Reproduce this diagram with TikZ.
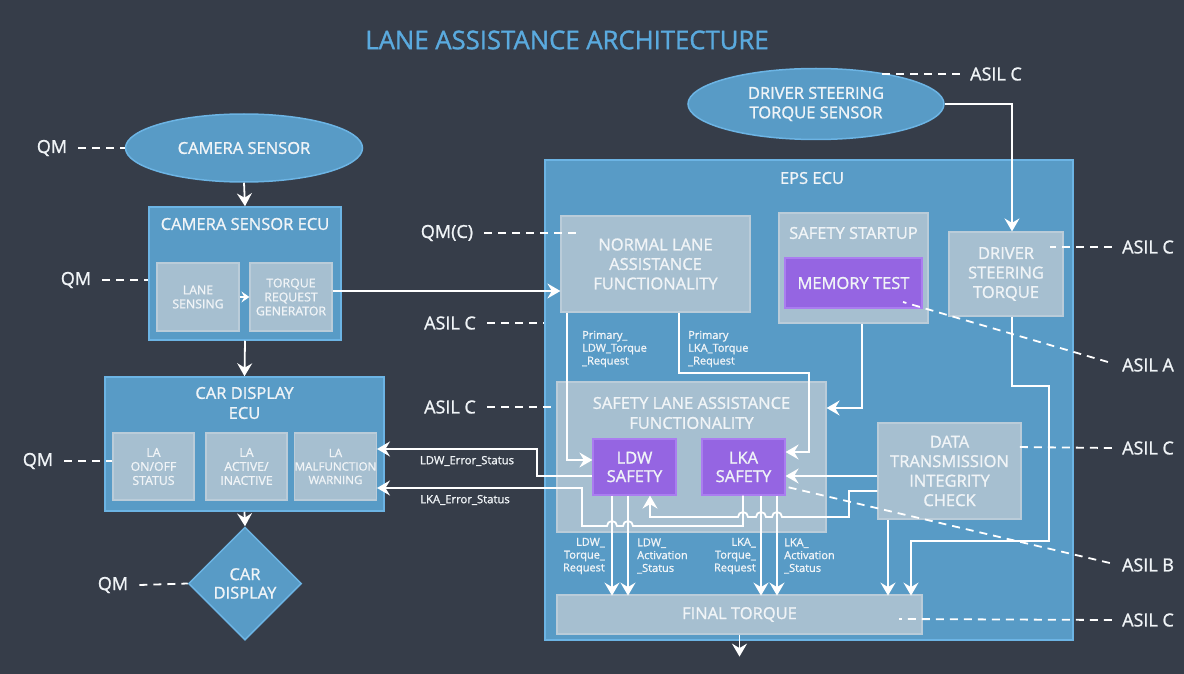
\documentclass[tikz,border=0pt]{standalone}
\usepackage{fontspec}
\setmainfont{Open Sans}[BoldFont={Open Sans},BoldFeatures={FakeBold=1.2}]
\usetikzlibrary{arrows.meta,shapes.geometric}
\definecolor{bgc}{RGB}{54,61,73}
\definecolor{bluef}{RGB}{88,155,198}
\definecolor{blued}{RGB}{108,180,228}
\definecolor{greyf}{RGB}{166,191,208}
\definecolor{greyd}{RGB}{186,204,217}
\definecolor{purf}{RGB}{149,101,226}
\definecolor{purd}{RGB}{170,125,240}
\definecolor{titc}{RGB}{90,170,222}
\definecolor{txtc}{RGB}{240,244,247}
\tikzset{
 base/.style={inner sep=0pt, align=center, text=txtc},
 bluebox/.style={base, fill=bluef, draw=blued, line width=1.5pt},
 greybox/.style={base, fill=greyf, draw=greyd, line width=1.2pt},
 purbox/.style={base, fill=purf, draw=purd, line width=1.2pt},
 ell/.style={base, ellipse, fill=bluef, draw=blued, line width=1.5pt},
 big/.style={font=\bfseries\fontsize{16.5}{19.5}\selectfont},
 small/.style={font=\bfseries\fontsize{12.3}{14}\selectfont},
 lbl/.style={base, font=\bfseries\fontsize{18}{21}\selectfont},
 tiny/.style={base, font=\bfseries\fontsize{11}{12.8}\selectfont},
 conn/.style={draw=white, line width=1.8pt},
 arr/.style={conn, -{Stealth[length=13pt,width=15pt,inset=4.5pt]}},
 sarr/.style={conn, -{Stealth[length=8pt,width=11pt,inset=3pt]}},
 dsh/.style={draw=white, line width=1.8pt, dash pattern=on 8pt off 6pt},
}
\begin{document}
\begin{tikzpicture}[x=1pt,y=-1pt]
\fill[bgc] (0,0) rectangle (1184,674);
\useasboundingbox (0,0) rectangle (1184,674);

% title
\node[base, text=titc, font=\bfseries\fontsize{25.7}{30}\selectfont] (title) at (567,40) {LANE ASSISTANCE ARCHITECTURE};

% left column
\node[ell, big, minimum width=237pt, minimum height=68pt] (cam) at (244,148) {CAMERA SENSOR};
\node[bluebox, minimum width=192pt, minimum height=133pt] (csecu) at (245,273.5) {};
\node[base, big] (csecut) at (245,224) {CAMERA SENSOR ECU};
\node[greybox, small, minimum width=82pt, minimum height=68pt] (ls) at (198,297) {LANE\\SENSING};
\node[greybox, small, minimum width=82pt, minimum height=68pt] (trg) at (291,297) {TORQUE\\REQUEST\\GENERATOR};

\node[bluebox, minimum width=279pt, minimum height=134pt] (cdecu) at (244.5,444) {};
\node[base, big, font=\bfseries\fontsize{16.5}{20}\selectfont] (cdecut) at (244.5,403) {CAR DISPLAY\\ECU};
\node[greybox, small, minimum width=81pt, minimum height=67pt] (lao) at (153.5,466.5) {LA\\ON/OFF\\STATUS};
\node[greybox, small, minimum width=81pt, minimum height=67pt] (laa) at (246.5,466.5) {LA\\ACTIVE/\\INACTIVE};
\node[greybox, small, font=\bfseries\fontsize{11.6}{13.5}\selectfont, minimum width=81pt, minimum height=67pt] (lamw) at (335.5,466.5) {LA\\MALFUNCTION\\WARNING};

\node[base, diamond, fill=bluef, draw=blued, line width=1.5pt, minimum width=113pt, minimum height=113pt, big, font=\bfseries\fontsize{16.5}{18.5}\selectfont] (cdisp) at (245,583.5) {CAR\\DISPLAY};

% top right sensor
\node[ell, big, minimum width=256pt, minimum height=71pt] (dss) at (816,104) {DRIVER STEERING\\TORQUE SENSOR};

% EPS ECU
\node[bluebox, minimum width=528pt, minimum height=480pt] (eps) at (809,400) {};
\node[base, big] (epst) at (812,178) {EPS ECU};
\node[greybox, big, minimum width=189pt, minimum height=96pt] (nla) at (655.5,264) {NORMAL LANE\\ASSISTANCE\\FUNCTIONALITY};
\node[greybox, minimum width=149pt, minimum height=110pt] (ss) at (853.5,268) {};
\node[base, big] (sst) at (853.5,233) {SAFETY STARTUP};
\node[purbox, big, minimum width=137pt, minimum height=50pt] (mt) at (853.5,283) {MEMORY TEST};
\node[greybox, big, minimum width=114pt, minimum height=84pt] (dst) at (1006,274) {DRIVER\\STEERING\\TORQUE};
\node[greybox, minimum width=269pt, minimum height=150pt] (sla) at (691.5,457) {};
\node[base, big, font=\bfseries\fontsize{16.5}{20}\selectfont] (slat) at (691.5,413) {SAFETY LANE ASSISTANCE\\FUNCTIONALITY};
\node[purbox, big, font=\bfseries\fontsize{16.5}{18.5}\selectfont, minimum width=83pt, minimum height=56pt] (ldw) at (634.5,467) {LDW\\SAFETY};
\node[purbox, big, font=\bfseries\fontsize{16.5}{18.5}\selectfont, minimum width=83pt, minimum height=56pt] (lka) at (743.5,467) {LKA\\SAFETY};
\node[greybox, big, minimum width=143pt, minimum height=96pt] (dtic) at (949.5,471) {DATA\\TRANSMISSION\\INTEGRITY\\CHECK};
\node[greybox, big, minimum width=365pt, minimum height=39pt] (ft) at (739.5,614.5) {FINAL TORQUE};

% labels
\node[lbl] (qm1) at (52,148) {QM};
\node[lbl] (qm2) at (76,280) {QM};
\node[lbl] (qm3) at (38,461) {QM};
\node[lbl] (qm4) at (113,585) {QM};
\node[lbl] (qmc) at (447,233) {QM(C)};
\node[lbl] (as2) at (450,323) {ASIL C};
\node[lbl] (as3) at (450,407) {ASIL C};
\node[lbl] (as1) at (996,74) {ASIL C};
\node[lbl] (as4) at (1148,247) {ASIL C};
\node[lbl] (asa) at (1148,365) {ASIL A};
\node[lbl] (as5) at (1148,448) {ASIL C};
\node[lbl] (asb) at (1148,565) {ASIL B};
\node[lbl] (as6) at (1148,620) {ASIL C};

\node[tiny, anchor=west, align=left] (pl1) at (582,349) {Primary\_\\LDW\_Torque\\\_Request};
\node[tiny, anchor=west, align=left] (pl2) at (688,349) {Primary\\LKA\_Torque\\\_Request};
\node[tiny, anchor=east, align=right] (o1) at (605,556) {LDW\_\\Torque\_\\Request};
\node[tiny, anchor=west, align=left] (o2) at (637,556) {LDW\_\\Activation\\\_Status};
\node[tiny, anchor=east, align=right] (o3) at (756,556) {LKA\_\\Torque\_\\Request};
\node[tiny, anchor=west, align=left] (o4) at (784,556) {LKA\_\\Activation\\\_Status};
\node[tiny, font=\bfseries\fontsize{11.3}{13}\selectfont] (e1) at (467,461) {LDW\_Error\_Status};
\node[tiny, font=\bfseries\fontsize{11.3}{13}\selectfont] (e2) at (465,500) {LKA\_Error\_Status};

% solid connectors
\draw[arr] (cam.south) -- (csecu.north);
\draw[sarr] (ls.east) -- (trg.west);
\draw[arr] (csecu.south) -- (cdecu.north);
\draw[arr] (cdecu.south) -- (cdisp.north);
\draw[arr] ([yshift=6pt]trg.east) -- ([yshift=6pt]trg.east -| nla.west);
\draw[arr] (dss.east) -- (1012,104) -- ([xshift=6pt]dst.north);
\draw[arr] ([xshift=8.5pt]ss.south) |- ([yshift=49pt]sla.east);
\draw[arr] ([xshift=6pt]dst.south) -- ++(0,69) -- ++(37,0) -- ++(0,155) -- ++(-138,0) -- ++(0,55);
\draw[arr] ([xshift=-61.5pt]dtic.south) -- ++(0,76);
\draw[arr] (ft.south) -- ++(0,22);
\draw[arr] ([xshift=-88.5pt]nla.south) |- ([yshift=7pt]ldw.west);
\draw[arr] ([xshift=23.5pt]nla.south) -- ++(0,60) -| (809,452) -- ([yshift=15pt]lka.east);
\draw[arr] ([yshift=-9pt]ldw.west) -- (537,476) -- (537,449) -- ([yshift=17.5pt]lamw.east);
\draw[arr] ([xshift=-0.5pt]lka.south) -- (743,526) -- (633,526)
   arc[start angle=0,end angle=-180,radius=5] -- (617,526)
   arc[start angle=0,end angle=-180,radius=5] -- (582,526) -- (582,488)
   -- ([yshift=-21.5pt]lamw.east);
\draw[arr] ([yshift=-5pt]dtic.west) -- ([yshift=-9pt]lka.east);
\draw[arr] ([yshift=-20pt]dtic.west) -- (849,491) -- (849,517) -- (782,517)
   arc[start angle=0,end angle=-180,radius=5] -- (766,517)
   arc[start angle=0,end angle=-180,radius=5] -- (748,517)
   arc[start angle=0,end angle=-180,radius=5] -- (650,517)
   -- ([xshift=15.5pt]ldw.south);
\draw[arr] ([xshift=-22.5pt]ldw.south) -- ++(0,100);
\draw[arr] ([xshift=-6.5pt]ldw.south) -- ++(0,100);
\draw[arr] ([xshift=17.5pt]lka.south) -- ++(0,100);
\draw[arr] ([xshift=33.5pt]lka.south) -- ++(0,100);

% dashed ASIL/QM connectors
\coordinate (qmcend) at (582,233);
\coordinate (as1end) at (878,74);
\coordinate (mtd) at (903,302);
\coordinate (lkad) at (783,486);
\draw[dsh] ([xshift=11pt]qm1.east) -- (cam.west);
\draw[dsh] ([xshift=11pt]qm2.east) -- (qm2.east -| csecu.west);
\draw[dsh] ([xshift=11pt]qm3.east) -- (qm3.east -| lao.west);
\draw[dsh] ([xshift=11pt]qm4.east) -- (cdisp.west);
\draw[dsh] ([xshift=11pt]qmc.east) -- (qmcend);
\draw[dsh] ([xshift=11pt]as2.east) -- (as2.east -| eps.west);
\draw[dsh] ([xshift=11pt]as3.east) -- (as3.east -| sla.west);
\draw[dsh] ([xshift=-10pt]as1.west) -- (as1end);
\draw[dsh] ([xshift=-10pt]as4.west) -- (1050,247);
\draw[dsh] ([xshift=-14pt,yshift=3pt]asa.west) -- (mtd);
\draw[dsh] ([xshift=-10pt]as5.west) -- (1015,447);
\draw[dsh] ([xshift=-12pt,yshift=2pt]asb.west) -- (lkad);
\draw[dsh] ([xshift=-10pt]as6.west) -- (899,619);
\end{tikzpicture}
\end{document}
